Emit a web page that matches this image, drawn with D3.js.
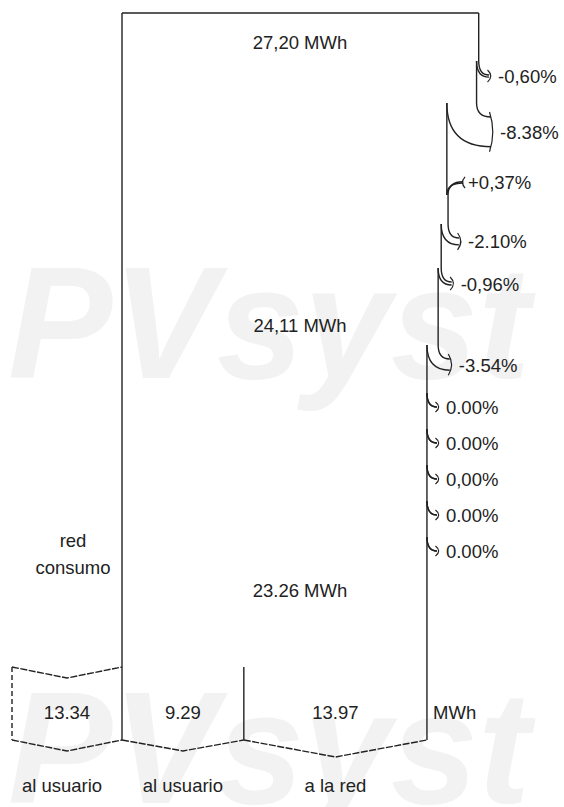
<!DOCTYPE html>
<html>
<head>
<meta charset="utf-8">
<script src="https://cdn.jsdelivr.net/npm/d3@7"></script>
<style>
  html, body { margin: 0; padding: 0; background: #fff; }
  svg { display: block; }
  text { font-family: "Liberation Sans", Arial, sans-serif; fill: #222; }
</style>
</head>
<body>
<svg id="chart" width="564" height="807"></svg>
<script>
// ---------------- data ----------------
const inputEnergy = 27.20;
const energyLabels = ["27,20 MWh", "24,11 MWh", "23.26 MWh"];
const lossValues = [-0.60, -8.38, 0.37, -2.10, -0.96, -3.54, 0.00, 0.00, 0.00, 0.00, 0.00];
const lossLabels = ["-0,60%", "-8.38%", "+0,37%", "-2.10%", "-0,96%", "-3.54%", "0.00%", "0.00%", "0,00%", "0.00%", "0.00%"];
const splitValues = [9.29, 13.97];
const splitLabels = ["9.29", "13.97"];
const gridValue = 13.34;
const gridLabel = "13.34";
const splitCaptions = ["al usuario", "al usuario", "a la red"];
const sideLabels = ["red", "consumo"];
const unitLabel = "MWh";
const watermark = "PVsyst";

// ---------------- layout ----------------
const svg = d3.select("#chart");
const xLeft = 122, topY = 13, bottomY = 740, splitTopY = 667;
const x = d3.scaleLinear().domain([0, inputEnergy]).range([xLeft, 478.7]);
const stepY = [61, 103, 195, 224, 268, 345, 393, 429, 465, 501, 537];
const ink = "#222";
const fs = 18.5;

// watermark
[378, 803].forEach(by => {
  svg.append("text").attr("x", 8).attr("y", by)
    .attr("font-size", 160).attr("font-weight", "bold").attr("font-style", "italic")
    .attr("textLength", 522).attr("lengthAdjust", "spacingAndGlyphs")
    .style("fill", "#f2f2f2").text(watermark);
});

const g = svg.append("g").attr("fill", "none").attr("stroke", ink).attr("stroke-width", 1.4);

// running energy through the steps
let e = inputEnergy;
const steps = lossValues.map((p, i) => {
  const before = e;
  e = e * (1 + p / 100);
  return { p, before, after: e, y: stepY[i], label: lossLabels[i] };
});

// top edge and left edge
g.append("line").attr("x1", x(0)).attr("x2", x(inputEnergy)).attr("y1", topY).attr("y2", topY);
g.append("line").attr("x1", x(0)).attr("x2", x(0)).attr("y1", topY).attr("y2", bottomY);

// right edge vertical segments
let prevY = topY;
steps.forEach(s => {
  g.append("line").attr("x1", x(s.before)).attr("x2", x(s.before)).attr("y1", prevY).attr("y2", s.y);
  prevY = s.y;
});
const lastX = x(steps[steps.length - 1].after);
g.append("line").attr("x1", lastX).attr("x2", lastX).attr("y1", prevY).attr("y2", bottomY);

// arrows
const R = 14;
steps.forEach(s => {
  const xo = x(s.before), xn = x(s.after);
  const w = Math.abs(xo - xn);
  if (s.p <= 0) {
    const xe = xo + 10 + w * 0.15;
    const y0 = s.y;
    g.append("path").attr("d", `M${xo},${y0} Q${xo},${y0 + R} ${xe},${y0 + R}`);
    g.append("path").attr("d", `M${xn},${y0} Q${xn},${y0 + R + w} ${xe},${y0 + R + w}`);
    g.append("path").attr("stroke-width", 1.2)
      .attr("d", `M${xe - 1.5},${y0 + R - 5} Q${xe + 5},${y0 + R + w / 2} ${xe - 1.5},${y0 + R + w + 5}`);
    svg.append("text").attr("x", xe + 9).attr("y", y0 + R + w / 2 + 7)
      .attr("font-size", fs).text(s.label);
  } else {
    const xs = xn + 15;
    const y0 = s.y, r = 12;
    g.append("path").attr("d", `M${xs},${y0 - r - w} Q${xn},${y0 - r - w} ${xn},${y0}`);
    g.append("path").attr("d", `M${xs},${y0 - r} Q${xo},${y0 - r} ${xo},${y0}`);
    g.append("path").attr("stroke-width", 1.2)
      .attr("d", `M${xs + 2},${y0 - r - w - 5} Q${xs - 3},${y0 - r - w / 2} ${xs + 2},${y0 - r + 5}`);
    svg.append("text").attr("x", xs + 5).attr("y", y0 - r - w / 2 + 7)
      .attr("font-size", fs).text(s.label);
  }
});

// energy labels
const midX = 300;
[[energyLabels[0], 49], [energyLabels[1], 332], [energyLabels[2], 597]].forEach(([t, y]) => {
  svg.append("text").attr("x", midX).attr("y", y).attr("text-anchor", "middle")
    .attr("font-size", fs).text(t);
});

// side label
sideLabels.forEach((t, i) => {
  svg.append("text").attr("x", 73).attr("y", 547 + i * 27).attr("text-anchor", "middle")
    .attr("font-size", fs).text(t);
});

// split bottom
const b0 = x(0), b1 = x(splitValues[0]), b2 = x(splitValues[0] + splitValues[1]);
const gx0 = b0 - 110;
g.append("line").attr("x1", b1).attr("x2", b1).attr("y1", splitTopY).attr("y2", bottomY);
const dashed = g.append("g").attr("stroke-dasharray", "7,1.5");
const zig = (a, b, y, d) => `M${a},${y} L${(a + b) / 2},${y + d} L${b},${y}`;
dashed.append("path").attr("d", zig(gx0, b0, splitTopY, 11));
dashed.append("path").attr("d", zig(gx0, b0, bottomY, 11));
dashed.append("path").attr("d", zig(b0, b1, bottomY, 11));
dashed.append("path").attr("d", zig(b1, b2, bottomY, 17));
g.append("line").attr("stroke-dasharray", "5,3")
  .attr("x1", gx0).attr("x2", gx0).attr("y1", splitTopY).attr("y2", bottomY);

const boxes = [[gridLabel, (gx0 + b0) / 2], [splitLabels[0], (b0 + b1) / 2], [splitLabels[1], (b1 + b2) / 2]];
boxes.forEach(([t, cx], i) => {
  svg.append("text").attr("x", cx).attr("y", 719).attr("text-anchor", "middle")
    .attr("font-size", fs).text(t);
  svg.append("text").attr("x", cx - (i === 0 ? 5 : 0)).attr("y", 792).attr("text-anchor", "middle")
    .attr("font-size", fs).text(splitCaptions[i]);
});
svg.append("text").attr("x", b2 + 6).attr("y", 719).attr("font-size", fs).text(unitLabel);
</script>
</body>
</html>
